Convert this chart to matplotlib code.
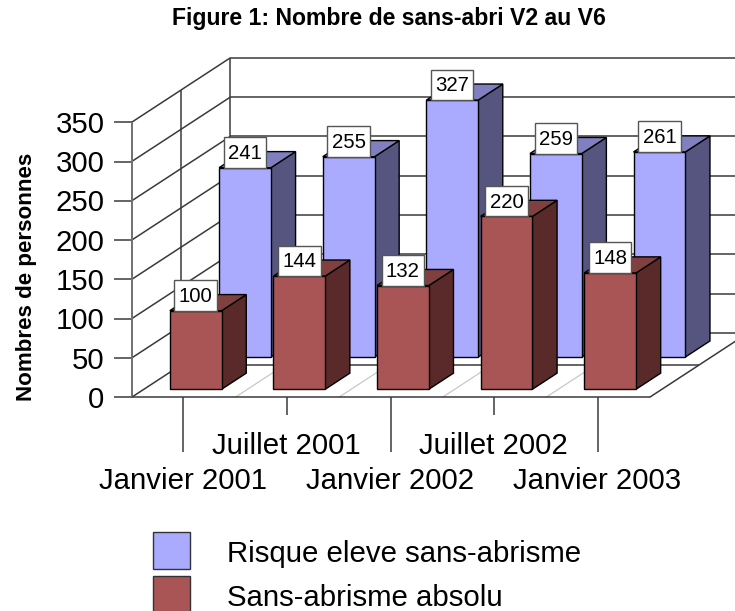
import matplotlib
matplotlib.use('Agg')
import matplotlib.pyplot as plt
from matplotlib.patches import Polygon, Rectangle

plt.rcParams['font.family'] = ['Liberation Sans', 'DejaVu Sans']

categories = ['Janvier 2001', 'Juillet 2001', 'Janvier 2002', 'Juillet 2002', 'Janvier 2003']
risque_eleve = [241, 255, 327, 259, 261]
absolu = [100, 144, 132, 220, 148]
y_ticks = [0, 50, 100, 150, 200, 250, 300, 350]
series_names = ['Risque eleve sans-abrisme', 'Sans-abrisme absolu']

W, H = 735, 611
PX_CAT = 103.6    # pixels per category
PX_VAL = 0.7857   # pixels per value unit
X0, Y0 = 131.6, 397.3
DX = 49.3 / PX_CAT  # depth offset of one row, in category units
DY = 32.2 / PX_VAL  # same, in value units
BAR_W = 0.5
BAR_D = 0.5
YMAX = 350
NCAT = len(categories)

BLUE = ('#AAAAFF', '#8080C0', '#555580')
RED = ('#AA5555', '#804040', '#5A2A2A')
LINE = '#3a3a3a'


def proj(c, v, row=0.0):
    return c + row * DX, v + row * DY


def line3d(ax, p1, p2, color=LINE, lw=1.1, z=1):
    a = proj(*p1)
    b = proj(*p2)
    ax.plot([a[0], b[0]], [a[1], b[1]], color=color, lw=lw, zorder=z, solid_capstyle='butt')


def bar3d(ax, c, v, row, colors, z):
    left = c + 0.5 - BAR_W / 2
    right = left + BAR_W
    r0 = row + 0.5 - BAR_D / 2
    r1 = r0 + BAR_D
    front = [proj(left, 0, r0), proj(right, 0, r0), proj(right, v, r0), proj(left, v, r0)]
    top = [proj(left, v, r0), proj(right, v, r0), proj(right, v, r1), proj(left, v, r1)]
    side = [proj(right, 0, r0), proj(right, 0, r1), proj(right, v, r1), proj(right, v, r0)]
    for pts, col in [(side, colors[2]), (top, colors[1]), (front, colors[0])]:
        ax.add_patch(Polygon(pts, closed=True, facecolor=col, edgecolor='black', lw=1.0, zorder=z))
    # value label sits on the top front edge, centred on the bar
    bw = 42.5 / PX_CAT
    bh = 30.5 / PX_VAL
    cx, cy = proj(c + 0.5, v, r0)
    ax.add_patch(Rectangle((cx - bw / 2, cy), bw, bh, facecolor='white', edgecolor='#555555',
                           lw=1.0, zorder=20))
    ax.text(cx, cy + bh / 2 - 1 / PX_VAL, str(v), ha='center', va='center', fontsize=14.7, color='black', zorder=21)


fig = plt.figure(figsize=(W / 100, H / 100), dpi=100)
ax = fig.add_axes([0, 0, 1, 1])
ax.set_xlim(-X0 / PX_CAT, (W - X0) / PX_CAT)
ax.set_ylim((Y0 - H) / PX_VAL, Y0 / PX_VAL)
ax.axis('off')

# walls
for t in y_ticks:
    line3d(ax, (0, t, 0), (0, t, 2))
    line3d(ax, (0, t, 2), (NCAT, t, 2))
    line3d(ax, (-18 / PX_CAT, t, 0), (0, t, 0), color=LINE)
line3d(ax, (0, 0, 0), (0, YMAX, 0), color='#707070', lw=1.4)
line3d(ax, (0, 0, 1), (0, YMAX, 1))
line3d(ax, (0, 0, 2), (0, YMAX, 2))

# floor
for i in range(1, NCAT):
    line3d(ax, (i, 0, 0), (i, 0, 2), color='#c8c8c8', lw=0.9)
line3d(ax, (0, 0, 0), (NCAT, 0, 0), color=LINE)
line3d(ax, (0, 0, 1), (NCAT, 0, 1), color=LINE)
line3d(ax, (NCAT, 0, 0), (NCAT, 0, 2), color=LINE)

# bars, back row first
for i, v in enumerate(risque_eleve):
    bar3d(ax, i, v, 1, BLUE, 5 + i)
for i, v in enumerate(absolu):
    bar3d(ax, i, v, 0, RED, 10 + i)

# axis labels
for t in y_ticks:
    ax.text(-27 / PX_CAT, t - 2.5 / PX_VAL, str(t), ha='right', va='center', fontsize=21.2, color='black')

for i, name in enumerate(categories):
    long_tick = i % 2 == 0
    drop = 55 if long_tick else 18
    line3d(ax, (i + 0.5, 0, 0), (i + 0.5, -drop / PX_VAL, 0), color=LINE)
    label_y = -84 / PX_VAL if long_tick else -49 / PX_VAL
    ax.text(i + 0.5 - 0.5 / PX_CAT, label_y, name, ha='center', va='center', fontsize=21.2, color='black')

fig.text(389 / W, 1 - 19 / H, 'Figure 1: Nombre de sans-abri V2 au V6', ha='center', va='center',
         fontsize=16.6, fontweight='bold')
fig.text(26.5 / W, 1 - 277 / H, 'Nombres de personnes', ha='center', va='center', rotation=90,
         fontsize=16.1, fontweight='bold')

# legend
for k, (name, cols) in enumerate(zip(series_names, [BLUE, RED])):
    top = 532 + k * 44
    fig.patches.append(Rectangle((153 / W, 1 - (top + 37) / H), 37 / W, 37 / H, transform=fig.transFigure,
                                 facecolor=cols[0], edgecolor='#333333', lw=1.0))
    fig.text(227 / W, 1 - (top + 22) / H, name, ha='left', va='center', fontsize=21.2)

fig.savefig('out.png', dpi=100)
